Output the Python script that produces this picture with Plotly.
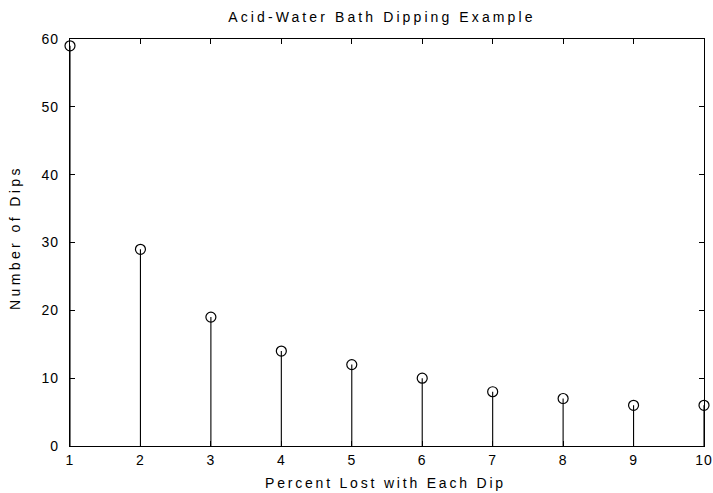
import plotly.graph_objects as go

# Percent lost per dip vs. number of dips required
percent_lost = [1, 2, 3, 4, 5, 6, 7, 8, 9, 10]
num_dips = [59, 29, 19, 14, 12, 10, 8, 7, 6, 6]
y_ticks = [0, 10, 20, 30, 40, 50, 60]


def spaced(text, px):
    """Wrap text in a span with extra letter spacing."""
    return f'<span style="letter-spacing:{px}px">{text}</span>'


# Stem lines: vertical segments from zero to each value
stem_x, stem_y = [], []
for xv, yv in zip(percent_lost, num_dips):
    stem_x += [xv, xv, None]
    stem_y += [0, yv, None]

fig = go.Figure()
fig.add_trace(go.Scatter(
    x=stem_x, y=stem_y, mode="lines",
    line=dict(color="black", width=1.1),
    hoverinfo="skip", showlegend=False,
))
fig.add_trace(go.Scatter(
    x=percent_lost, y=num_dips, mode="markers",
    marker=dict(symbol="circle-open", size=10, color="black",
                line=dict(color="black", width=1.2)),
    showlegend=False, cliponaxis=False,
))

font = dict(family="Liberation Sans, Arial, Helvetica, sans-serif", size=14, color="black")

fig.update_layout(
    width=713, height=493,
    margin=dict(l=70, r=9, t=39, b=47),
    paper_bgcolor="white", plot_bgcolor="white",
    font=font,
    title=dict(text=spaced("Acid-Water Bath Dipping Example", 3.1),
               xref="paper", x=0.492, xanchor="center",
               yref="container", y=0.965, yanchor="middle",
               font=dict(size=14)),
    xaxis=dict(
        range=[1, 10], tickvals=percent_lost,
        ticktext=[spaced(str(v), 1) for v in percent_lost],
        ticks="inside", ticklen=5, ticklabelstandoff=1,
        ticklabeloverflow="allow", automargin=False,
        tickcolor="black", showline=True, linecolor="black", linewidth=1.2,
        mirror="ticks", showgrid=False, zeroline=False,
    ),
    yaxis=dict(
        range=[0, 60], tickvals=y_ticks,
        ticktext=[spaced(str(v), 1) for v in y_ticks],
        ticks="inside", ticklen=5, ticklabelstandoff=7,
        ticklabeloverflow="allow", automargin=False,
        tickcolor="black", showline=True, linecolor="black", linewidth=1.2,
        mirror="ticks", showgrid=False, zeroline=False,
    ),
    annotations=[
        # x-axis title
        dict(text=spaced("Percent Lost with Each Dip", 2.8),
             xref="paper", yref="paper", x=0.497, y=0,
             xanchor="center", yanchor="middle", yshift=-37,
             showarrow=False, font=dict(size=14)),
        # y-axis title
        dict(text=spaced("Number of Dips", 3.4),
             xref="paper", yref="paper", x=0, y=0.511,
             xanchor="center", yanchor="middle", xshift=-55,
             textangle=-90, showarrow=False, font=dict(size=14)),
    ],
)

fig.write_html("out.html")
